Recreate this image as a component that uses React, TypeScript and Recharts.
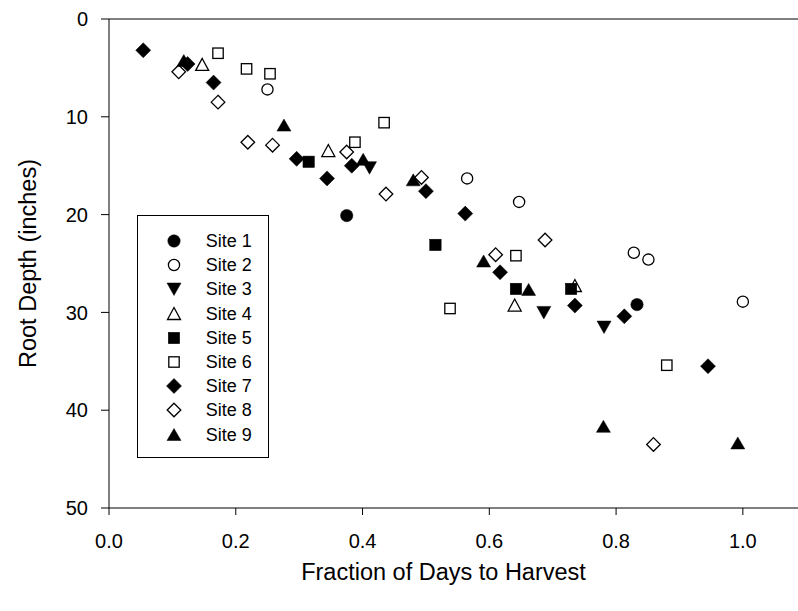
import { Legend, ReferenceLine, Scatter, ScatterChart, XAxis, YAxis } from "recharts";

// [fraction of days to harvest, root depth (in)]
const site1 = [[0.375, 20.1], [0.833, 29.2]];
const site2 = [[0.25, 7.2], [0.565, 16.3], [0.647, 18.7], [0.828, 23.9], [0.851, 24.6], [1.0, 28.9]];
const site3 = [[0.411, 15.2], [0.686, 30.0], [0.781, 31.5]];
const site4 = [[0.147, 4.7], [0.346, 13.5], [0.64, 29.3], [0.735, 27.3]];
const site5 = [[0.315, 14.6], [0.515, 23.1], [0.642, 27.6], [0.729, 27.6]];
const site6 = [[0.172, 3.5], [0.217, 5.1], [0.254, 5.6], [0.388, 12.6], [0.434, 10.6], [0.538, 29.6], [0.642, 24.2], [0.88, 35.4]];
const site7 = [[0.054, 3.2], [0.124, 4.6], [0.165, 6.5], [0.296, 14.3], [0.344, 16.3], [0.383, 15.0], [0.5, 17.6], [0.562, 19.9], [0.617, 25.9], [0.735, 29.3], [0.813, 30.4], [0.945, 35.5]];
const site8 = [[0.11, 5.4], [0.172, 8.5], [0.219, 12.6], [0.258, 12.9], [0.375, 13.6], [0.437, 17.9], [0.493, 16.2], [0.61, 24.1], [0.688, 22.6], [0.859, 43.5]];
const site9 = [[0.118, 4.3], [0.276, 10.9], [0.401, 14.4], [0.48, 16.5], [0.591, 24.8], [0.662, 27.7], [0.78, 41.7], [0.992, 43.4]];

const siteNames = ["Site 1", "Site 2", "Site 3", "Site 4", "Site 5", "Site 6", "Site 7", "Site 8", "Site 9"];
const markerKinds = ["circle", "openCircle", "triDown", "openTriUp", "square", "openSquare", "diamond", "openDiamond", "triUp"];
const xTicks = [0, 0.2, 0.4, 0.6, 0.8, 1.0];
const yTicks = [0, 10, 20, 30, 40, 50];

const sites = [site1, site2, site3, site4, site5, site6, site7, site8, site9];
const FONT = "'Liberation Sans', Arial, sans-serif";

function marker(kind: string, cx: number, cy: number) {
  const open = kind.startsWith("open");
  const fill = open ? "none" : "#000";
  const stroke = "#000";
  const sw = open ? 1.3 : 0.5;
  if (kind === "circle" || kind === "openCircle") {
    return <circle cx={cx} cy={cy} r={open ? 5.6 : 6.2} fill={fill} stroke={stroke} strokeWidth={sw} />;
  }
  if (kind === "square" || kind === "openSquare") {
    const h = open ? 5.2 : 5.7;
    return <rect x={cx - h} y={cy - h} width={h * 2} height={h * 2} fill={fill} stroke={stroke} strokeWidth={sw} />;
  }
  if (kind === "diamond" || kind === "openDiamond") {
    const h = open ? 6.8 : 7.5;
    return <polygon points={`${cx},${cy - h} ${cx + h},${cy} ${cx},${cy + h} ${cx - h},${cy}`} fill={fill} stroke={stroke} strokeWidth={sw} />;
  }
  if (kind === "triDown") {
    return <polygon points={`${cx - 7},${cy - 6} ${cx + 7},${cy - 6} ${cx},${cy + 6.5}`} fill={fill} stroke={stroke} strokeWidth={sw} />;
  }
  // up triangles
  const w = open ? 6.5 : 7;
  return <polygon points={`${cx},${cy - 6.5} ${cx + w},${cy + 5.5} ${cx - w},${cy + 5.5}`} fill={fill} stroke={stroke} strokeWidth={sw} />;
}

function LegendBox() {
  return (
    <div style={{ position: "relative", width: 132, height: 243, border: "1px solid #000", boxSizing: "border-box", background: "#fff", fontFamily: FONT }}>
      {siteNames.map((name, i) => (
        <div key={name} style={{ position: "absolute", left: 0, top: 13 + i * 24.2, height: 24, width: 130 }}>
          <svg width={24} height={24} style={{ position: "absolute", left: 23.7, top: 0 }}>
            {marker(markerKinds[i], 12, 12)}
          </svg>
          <span style={{ position: "absolute", left: 67.7, top: 0, lineHeight: "24px", fontSize: 18, color: "#000" }}>{name}</span>
        </div>
      ))}
    </div>
  );
}

export default function App() {
  const tickStyle = { fill: "#000", fontSize: 20, fontFamily: FONT };
  return (
    <div style={{ position: "absolute", left: 0, top: 0, background: "#fff" }}>
      <ScatterChart width={798} height={611} margin={{ top: 19, right: 0, bottom: 0, left: 0 }}>
        <XAxis
          type="number"
          dataKey="x"
          domain={[0, 1.087]}
          ticks={xTicks}
          tickFormatter={(v: number) => v.toFixed(1)}
          allowDataOverflow
          height={103}
          tickSize={7}
          tickMargin={19}
          stroke="#000"
          tick={tickStyle}
          label={{ value: "Fraction of Days to Harvest", position: "insideBottom", offset: 31, dx: -10, style: { fill: "#000", fontSize: 23.5, fontFamily: FONT } }}
        />
        <YAxis
          type="number"
          dataKey="y"
          reversed
          domain={[0, 50]}
          ticks={yTicks}
          allowDataOverflow
          width={109}
          tickSize={8}
          tickMargin={13}
          stroke="#000"
          tick={tickStyle}
          label={{ value: "Root Depth (inches)", angle: -90, position: "insideLeft", offset: 28, style: { textAnchor: "middle", fill: "#000", fontSize: 23.5, fontFamily: FONT } }}
        />
        <ReferenceLine y={0} stroke="#000" />
        {sites.map((pts, i) => (
          <Scatter
            key={siteNames[i]}
            name={siteNames[i]}
            data={pts.map(([x, y]) => ({ x, y }))}
            isAnimationActive={false}
            shape={(p: any) => marker(markerKinds[i], p.cx, p.cy)}
          />
        ))}
        <Legend
          layout="vertical"
          align="center"
          verticalAlign="middle"
          wrapperStyle={{ left: 137, top: 215, width: 132, height: 243 }}
          content={() => <LegendBox />}
        />
      </ScatterChart>
    </div>
  );
}
